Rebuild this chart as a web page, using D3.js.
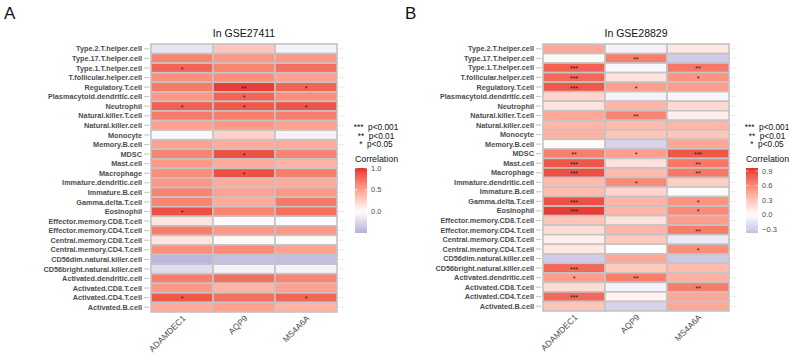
<!DOCTYPE html>
<html>
<head>
<meta charset="utf-8">
<script src="https://cdn.jsdelivr.net/npm/d3@7"></script>
<style>
  body { margin: 0; background: #fff; }
  svg { display: block; font-family: "Liberation Sans", Arial, sans-serif; }
</style>
</head>
<body>
<svg id="chart" width="789" height="353"></svg>
<script>
const cells = ['Type.2.T.helper.cell', 'Type.17.T.helper.cell', 'Type.1.T.helper.cell', 'T.follicular.helper.cell',
  'Regulatory.T.cell', 'Plasmacytoid.dendritic.cell', 'Neutrophil', 'Natural.killer.T.cell', 'Natural.killer.cell',
  'Monocyte', 'Memory.B.cell', 'MDSC', 'Mast.cell', 'Macrophage', 'Immature.dendritic.cell', 'Immature.B.cell',
  'Gamma.delta.T.cell', 'Eosinophil', 'Effector.memory.CD8.T.cell', 'Effector.memory.CD4.T.cell',
  'Central.memory.CD8.T.cell', 'Central.memory.CD4.T.cell', 'CD56dim.natural.killer.cell',
  'CD56bright.natural.killer.cell', 'Activated.dendritic.cell', 'Activated.CD8.T.cell', 'Activated.CD4.T.cell',
  'Activated.B.cell'];
const genes = ['ADAMDEC1', 'AQP9', 'MS4A6A'];

// GSE27411 correlations, one row per cell type (ADAMDEC1, AQP9, MS4A6A)
const corrA = [
  [-0.15, 0.30, -0.07], [0.65, 0.55, 0.55], [0.80, 0.65, 0.75], [0.60, 0.60, 0.50],
  [0.70, 0.95, 0.80], [0.55, 0.80, 0.60], [0.82, 0.85, 0.87], [0.70, 0.68, 0.68],
  [0.50, 0.55, 0.50], [-0.04, 0.25, -0.08], [0.50, 0.45, 0.45], [0.65, 0.88, 0.65],
  [0.55, 0.45, 0.40], [0.60, 0.88, 0.68], [0.55, 0.45, 0.45], [0.65, 0.50, 0.55],
  [0.65, 0.45, 0.70], [0.88, 0.65, 0.75], [0.15, 0.03, -0.03], [0.68, 0.55, 0.55],
  [0.15, 0.03, -0.03], [0.60, 0.62, 0.50], [-0.45, -0.38, -0.40], [-0.20, -0.07, -0.07],
  [0.68, 0.75, 0.65], [0.55, 0.40, 0.50], [0.85, 0.75, 0.80], [0.45, 0.50, 0.40]
];
const sigA = [
  ['', '', ''], ['', '', ''], ['*', '', ''], ['', '', ''],
  ['', '**', '*'], ['', '*', ''], ['*', '*', '*'], ['', '', ''],
  ['', '', ''], ['', '', ''], ['', '', ''], ['', '*', ''],
  ['', '', ''], ['', '*', ''], ['', '', ''], ['', '', ''],
  ['', '', ''], ['*', '', ''], ['', '', ''], ['', '', ''],
  ['', '', ''], ['', '', ''], ['', '', ''], ['', '', ''],
  ['', '', ''], ['', '', ''], ['*', '', '*'], ['', '', '']
];

// GSE28829 correlations
const corrB = [
  [0.45, -0.07, 0.12], [0.03, 0.65, -0.30], [0.78, -0.04, 0.68], [0.75, 0.15, 0.55],
  [0.82, 0.50, 0.50], [0.22, -0.07, -0.05], [0.15, 0.38, 0.20], [0.45, 0.62, 0.08],
  [0.38, 0.35, 0.38], [0.40, 0.30, 0.30], [0.02, -0.25, 0.45], [0.65, 0.50, 0.82],
  [0.82, 0.15, 0.68], [0.85, 0.35, 0.68], [0.35, 0.60, 0.25], [0.35, 0.22, 0.02],
  [0.85, 0.38, 0.55], [0.92, 0.38, 0.60], [0.30, 0.15, 0.50], [0.18, 0.38, 0.65],
  [0.08, 0.28, -0.12], [0.12, 0.00, 0.58], [-0.30, 0.45, -0.32], [0.75, 0.28, 0.35],
  [0.50, 0.65, 0.40], [0.18, -0.07, 0.65], [0.75, 0.07, 0.45], [0.30, -0.25, 0.45]
];
const sigB = [
  ['', '', ''], ['', '**', ''], ['***', '', '**'], ['***', '', '*'],
  ['***', '*', ''], ['', '', ''], ['', '', ''], ['', '**', ''],
  ['', '', ''], ['', '', ''], ['', '', ''], ['**', '*', '***'],
  ['***', '', '**'], ['***', '', '**'], ['', '*', ''], ['', '', ''],
  ['***', '', '*'], ['***', '', '*'], ['', '', ''], ['', '', '**'],
  ['', '', ''], ['', '', '*'], ['', '', ''], ['***', '', ''],
  ['*', '**', ''], ['', '', '**'], ['***', '', ''], ['', '', '']
];

const limitsA = [-0.49, 1.0];
const limitsB = [-0.38, 0.96];
const ticksA = [0.0, 0.5, 1.0];
const ticksB = [-0.3, 0.0, 0.3, 0.6, 0.9];
const sigLabels = ['***  p<0.001', '**  p<0.01', '*  p<0.05'];

const svg = d3.select('#chart');
const LOW = '#6b61b1', MID = '#ffffff', HIGH = '#e62e2e';

function makeColor(limits) {
  const m = Math.max(Math.abs(limits[0]), Math.abs(limits[1]));
  const neg = d3.scaleLinear().domain([-m, 0]).range([LOW, MID]).interpolate(d3.interpolateLab);
  const pos = d3.scaleLinear().domain([0, m]).range([MID, HIGH]).interpolate(d3.interpolateLab);
  return v => v < 0 ? neg(v) : pos(v);
}

function panel(opt) {
  const g = svg.append('g');
  const color = makeColor(opt.limits);

  const x = d3.scaleBand().domain(genes).range([opt.left, opt.right]);
  const y = d3.scaleBand().domain(cells).range([opt.top, opt.bottom]);

  // Panel letter and title
  svg.append('text')
    .attr('x', opt.letterX).attr('y', 19)
    .attr('font-size', '17px')
    .attr('fill', '#111')
    .text(opt.letter);

  svg.append('text')
    .attr('x', (opt.left + opt.right) / 2).attr('y', 37)
    .attr('text-anchor', 'middle')
    .attr('font-size', '10.5px')
    .attr('fill', '#111')
    .text(opt.title);

  // faint background lines peeking out beside the tiles
  g.selectAll('.bgline').data(cells).join('line')
    .attr('x1', opt.left - 7).attr('x2', opt.right + 8)
    .attr('y1', d => y(d) + y.bandwidth() / 2)
    .attr('y2', d => y(d) + y.bandwidth() / 2)
    .attr('stroke', '#e6e6e6').attr('stroke-width', 0.8);

  g.selectAll('.tick-l').data(cells).join('line')
    .attr('x1', opt.left - 7).attr('x2', opt.left - 2)
    .attr('y1', d => y(d) + y.bandwidth() / 2)
    .attr('y2', d => y(d) + y.bandwidth() / 2)
    .attr('stroke', '#bdbdbd').attr('stroke-width', 0.8);

  // Tiles
  cells.forEach((c, i) => {
    genes.forEach((gn, j) => {
      g.append('rect')
        .attr('x', x(gn)).attr('y', y(c))
        .attr('width', x.bandwidth()).attr('height', y.bandwidth())
        .attr('fill', color(opt.corr[i][j]))
        .attr('stroke', '#c4c4c4')
        .attr('stroke-width', 1.6);

      if (opt.sig[i][j]) {
        g.append('text')
          .attr('x', x(gn) + x.bandwidth() / 2)
          .attr('y', y(c) + y.bandwidth() / 2 + 3.6)
          .attr('text-anchor', 'middle')
          .attr('font-size', '7px')
          .attr('fill', '#222')
          .text(opt.sig[i][j]);
      }
    });
  });

  // Row labels
  g.selectAll('.rowlab').data(cells).join('text')
    .attr('x', opt.left - 9)
    .attr('y', d => y(d) + y.bandwidth() / 2 + 2.6)
    .attr('text-anchor', 'end')
    .attr('font-size', '7.3px')
    .attr('font-weight', 'bold')
    .attr('fill', '#4d4d4d')
    .text(d => d);

  // Column labels, rotated
  g.selectAll('.collab').data(genes).join('text')
    .attr('transform', d => `translate(${x(d) + x.bandwidth() / 2 + 4}, ${opt.bottom + 7}) rotate(-45)`)
    .attr('text-anchor', 'end')
    .attr('font-size', '8.5px')
    .attr('fill', '#4d4d4d')
    .text(d => d);

  // Significance legend
  const lx = opt.legendX;
  sigLabels.forEach((s, k) => {
    svg.append('text')
      .attr('x', lx + 21).attr('y', 130 + k * 8.7)
      .attr('text-anchor', 'middle')
      .attr('font-size', '8.3px')
      .attr('fill', '#111')
      .style('white-space', 'pre')
      .text(s);
  });

  // Colour bar
  svg.append('text')
    .attr('x', lx).attr('y', 161.5)
    .attr('font-size', '8.8px')
    .attr('fill', '#111')
    .text('Correlation');

  const barTop = 168, barBottom = 233;
  const cb = d3.scaleLinear().domain(opt.limits).range([barBottom, barTop]);
  const gid = 'grad' + opt.letter;
  const grad = svg.append('defs').append('linearGradient')
    .attr('id', gid).attr('x1', 0).attr('x2', 0).attr('y1', 1).attr('y2', 0);
  d3.range(0, 1.0001, 0.05).forEach(t => {
    const v = opt.limits[0] + t * (opt.limits[1] - opt.limits[0]);
    grad.append('stop').attr('offset', t).attr('stop-color', color(v));
  });
  svg.append('rect')
    .attr('x', lx).attr('y', barTop)
    .attr('width', 12).attr('height', barBottom - barTop)
    .attr('fill', `url(#${gid})`);

  opt.ticks.forEach(t => {
    svg.append('line')
      .attr('x1', lx).attr('x2', lx + 2.5)
      .attr('y1', cb(t)).attr('y2', cb(t))
      .attr('stroke', '#fff').attr('stroke-width', 0.6);
    svg.append('line')
      .attr('x1', lx + 9.5).attr('x2', lx + 12)
      .attr('y1', cb(t)).attr('y2', cb(t))
      .attr('stroke', '#fff').attr('stroke-width', 0.6);
    svg.append('text')
      .attr('x', lx + 16).attr('y', cb(t) + 2.6)
      .attr('font-size', '7.5px')
      .attr('fill', '#4d4d4d')
      .text(d3.format('.1f')(t).replace('-', '\u2212'));
  });
}

panel({
  letter: 'A', letterX: 4, title: 'In GSE27411',
  left: 151, right: 337, top: 44, bottom: 312,
  corr: corrA, sig: sigA, limits: limitsA, ticks: ticksA, legendX: 355
});

panel({
  letter: 'B', letterX: 405, title: 'In GSE28829',
  left: 543, right: 729, top: 44, bottom: 311,
  corr: corrB, sig: sigB, limits: limitsB, ticks: ticksB, legendX: 746
});
</script>
</body>
</html>
